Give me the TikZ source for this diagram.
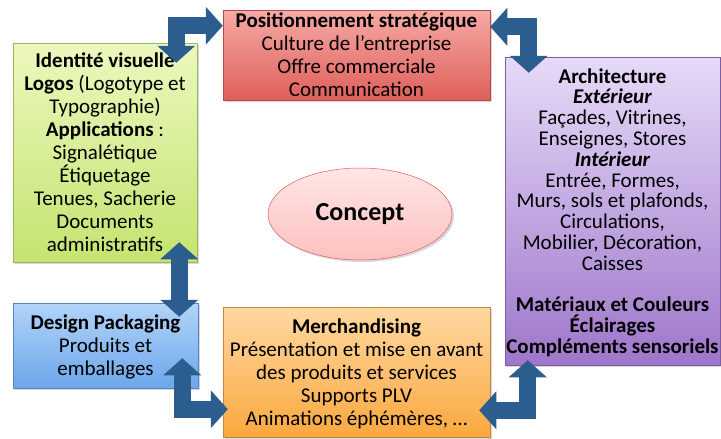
\documentclass[tikz,border=0pt]{standalone}
\usepackage{fontspec}
\setmainfont{Carlito}
\definecolor{arrowblue}{RGB}{44, 93, 143}
\definecolor{redtop}{RGB}{246, 170, 166}
\definecolor{redbot}{RGB}{223, 95, 90}
\definecolor{greentop}{RGB}{236, 248, 190}
\definecolor{greenbot}{RGB}{196, 228, 112}
\definecolor{purpletop}{RGB}{230, 218, 248}
\definecolor{purplebot}{RGB}{158, 118, 202}
\definecolor{bluetop}{RGB}{178, 212, 248}
\definecolor{bluebot}{RGB}{108, 166, 234}
\definecolor{orangetop}{RGB}{255, 216, 162}
\definecolor{orangebot}{RGB}{250, 168, 62}
\definecolor{concepttop}{RGB}{255, 230, 230}
\definecolor{conceptbot}{RGB}{255, 192, 192}
\usetikzlibrary{shapes.geometric, arrows.meta, shadows}

\begin{document}
\begin{tikzpicture}[x=1pt, y=-1pt,
  box/.style={draw=#1!80!black, line width=0.5pt, inner sep=0pt, align=center, text depth=0pt,
    font=\fontsize{21}{23}\selectfont,
    drop shadow={opacity=0.3, shadow xshift=2pt, shadow yshift=-2pt}},
  bigarrow/.style={draw=arrowblue, line width=17pt,
    {Triangle[width=38pt, length=17pt, line width=0pt]}-{Triangle[width=38pt, length=17pt, line width=0pt]}}]
  \path[use as bounding box, fill=white] (0, 0) rectangle (721, 439);

  % Positionnement strategique
  \node[box=redbot, top color=redtop, bottom color=redbot, minimum width=267pt, minimum height=90pt] (strategie) at (356.5, 55) {
    \textbf{Positionnement stratégique}\\
    Culture de l’entreprise\\
    Offre commerciale\\
    Communication
  };

  % Identite visuelle
  \node[box=greenbot, top color=greentop, bottom color=greenbot, minimum width=184pt, minimum height=219pt] (identite) at (105, 152.5) {
    \textbf{Identité visuelle}\\
    \textbf{Logos} (Logotype et\\
    Typographie)\\
    \textbf{Applications} :\\
    Signalétique\\
    Étiquetage\\
    Tenues, Sacherie\\
    Documents\\
    administratifs
  };

  % Architecture
  \node[box=purplebot, top color=purpletop, bottom color=purplebot, minimum width=215pt, minimum height=308pt,
    font=\fontsize{21}{20.8}\selectfont] (architecture) at (612.5, 211) {
    \textbf{Architecture}\\
    \textbf{\textit{Extérieur}}\\
    Façades, Vitrines,\\
    Enseignes, Stores\\
    \textbf{\textit{Intérieur}}\\
    Entrée, Formes,\\
    Murs, sols et plafonds,\\
    Circulations,\\
    Mobilier, Décoration,\\
    Caisses\\[20.8pt]
    \textbf{Matériaux et Couleurs}\\
    \textbf{Éclairages}\\
    \textbf{Compléments sensoriels}
  };

  % Design packaging
  \node[box=bluebot, top color=bluetop, bottom color=bluebot, minimum width=185pt, minimum height=85pt] (packaging) at (105.5, 345.5) {
    \textbf{Design Packaging}\\
    Produits et\\
    emballages
  };

  % Merchandising
  \node[box=orangebot, top color=orangetop, bottom color=orangebot, minimum width=267pt, minimum height=130pt] (merch) at (356.5, 372) {
    \textbf{Merchandising}\\
    Présentation et mise en avant\\
    des produits et services\\
    Supports PLV\\
    Animations éphémères, …
  };

  % Concept
  \node[ellipse, draw=redbot, line width=0.5pt, top color=concepttop, bottom color=conceptbot, minimum width=184pt, minimum height=92pt,
    font=\fontsize{26}{30}\selectfont\bfseries,
    drop shadow={opacity=0.3, shadow xshift=2pt, shadow yshift=-2pt}] (concept) at (360, 214) {Concept};

  % Block arrows
  \draw[bigarrow] ([xshift=-21pt, yshift=-20pt]identite.north east) |- ([yshift=-16pt]strategie.north west);
  \draw[bigarrow] ([yshift=-17pt]strategie.north east) -| ([xshift=24pt, yshift=-16pt]architecture.north west);
  \draw[bigarrow] ([xshift=-18pt, yshift=20pt]identite.south east) -- ([xshift=-19pt, yshift=-14pt]packaging.north east);
  \draw[bigarrow] ([xshift=-16pt, yshift=30pt]packaging.south east) |- ([xshift=5pt, yshift=28pt]merch.south west);
  \draw[bigarrow] ([xshift=23pt, yshift=5pt]architecture.south west) |- ([xshift=-11pt, yshift=27pt]merch.south east);
\end{tikzpicture}
\end{document}
